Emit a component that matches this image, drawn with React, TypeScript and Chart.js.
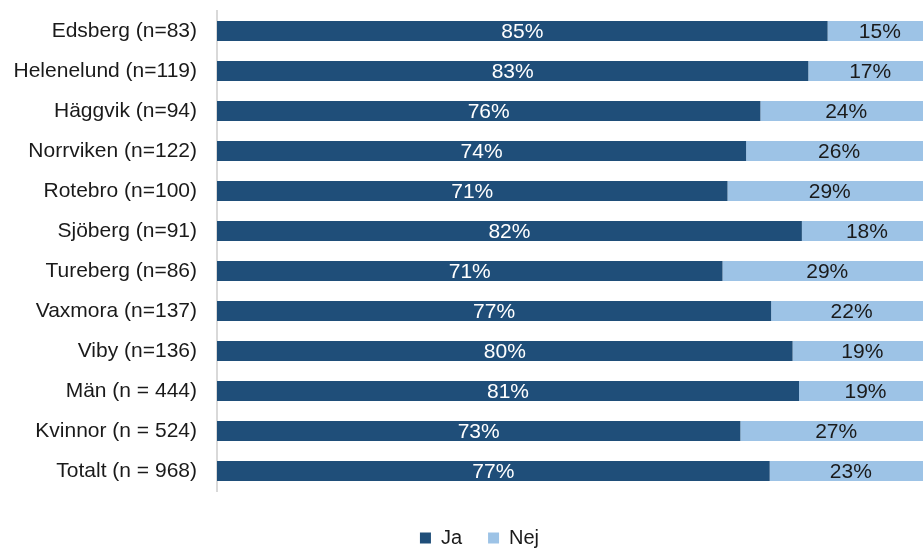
import React, { useEffect, useRef } from 'react';
import { Chart, registerables } from 'chart.js';

Chart.register(...registerables);

const categories = [
  'Edsberg (n=83)',
  'Helenelund (n=119)',
  'Häggvik (n=94)',
  'Norrviken (n=122)',
  'Rotebro (n=100)',
  'Sjöberg (n=91)',
  'Tureberg (n=86)',
  'Vaxmora (n=137)',
  'Viby (n=136)',
  'Män (n = 444)',
  'Kvinnor (n = 524)',
  'Totalt (n = 968)',
];

const jaValues = [85.4, 82.7, 76.0, 74.0, 71.4, 81.8, 70.7, 77.5, 80.5, 81.4, 73.2, 77.3];
const nejValues = [14.6, 17.3, 24.0, 26.0, 28.6, 18.2, 29.3, 22.5, 19.5, 18.6, 26.8, 22.7];

const jaLabels = ['85%', '83%', '76%', '74%', '71%', '82%', '71%', '77%', '80%', '81%', '73%', '77%'];
const nejLabels = ['15%', '17%', '24%', '26%', '29%', '18%', '29%', '22%', '19%', '19%', '27%', '23%'];

const seriesNames = ['Ja', 'Nej'];

const FONT = '"Liberation Sans", Arial, Helvetica, sans-serif';
const DARK = '#1F4E79';
const LIGHT = '#9DC3E6';
const TEXT = '#1a1a1a';

const barLabelPlugin = {
  id: 'barLabels',
  afterDatasetsDraw(chart: any) {
    const ctx = chart.ctx;
    chart.data.datasets.forEach((_ds: any, di: number) => {
      const meta = chart.getDatasetMeta(di);
      const labels = di === 0 ? jaLabels : nejLabels;
      meta.data.forEach((el: any, i: number) => {
        const p = el.getProps(['x', 'y', 'base'], true);
        ctx.save();
        ctx.font = `21px ${FONT}`;
        ctx.fillStyle = di === 0 ? '#ffffff' : TEXT;
        ctx.textAlign = 'center';
        ctx.textBaseline = 'middle';
        ctx.fillText(labels[i], (p.x + p.base) / 2, p.y + 1);
        ctx.restore();
      });
    });
  },
};

const legendShiftPlugin = {
  id: 'legendShift',
  afterLayout(chart: any) {
    if (chart.legend) {
      chart.legend.left += 18;
      chart.legend.right += 18;
    }
  },
};

export default function App() {
  const canvasRef = useRef<HTMLCanvasElement | null>(null);

  useEffect(() => {
    if (!canvasRef.current) return;
    Chart.defaults.font.family = FONT;
    const chart = new Chart(canvasRef.current, {
      type: 'bar',
      data: {
        labels: categories,
        datasets: [
          {
            label: seriesNames[0],
            data: jaValues,
            backgroundColor: DARK,
            categoryPercentage: 0.5,
            barPercentage: 1,
          },
          {
            label: seriesNames[1],
            data: nejValues,
            backgroundColor: LIGHT,
            categoryPercentage: 0.5,
            barPercentage: 1,
          },
        ],
      },
      options: {
        indexAxis: 'y',
        animation: false,
        responsive: true,
        maintainAspectRatio: false,
        layout: { padding: { top: 11, right: 0, bottom: 0, left: 0 } },
        scales: {
          x: {
            stacked: true,
            display: false,
            min: 0,
            max: 98.74,
          },
          y: {
            stacked: true,
            grid: { display: false, drawTicks: false },
            border: { display: true, color: '#d9d9d9', width: 2 },
            ticks: {
              color: TEXT,
              font: { size: 21, family: FONT },
              padding: 20,
              autoSkip: false,
            },
            afterFit: (scale: any) => {
              scale.width = 217;
              scale.paddingTop = 0;
              scale.paddingBottom = 0;
            },
          },
        },
        plugins: {
          legend: {
            position: 'bottom',
            title: { display: true, text: '', font: { size: 1, lineHeight: 1 }, padding: 5 },
            labels: {
              boxWidth: 11,
              boxHeight: 11,
              padding: 26,
              color: TEXT,
              font: { size: 20, family: FONT },
            },
          },
          tooltip: { enabled: false },
        },
      },
      plugins: [barLabelPlugin, legendShiftPlugin],
    });
    return () => chart.destroy();
  }, []);

  return (
    <div style={{ position: 'fixed', left: 0, top: 0, width: 923, height: 548, overflow: 'hidden', background: '#fff' }}>
      <div style={{ position: 'relative', width: 923, height: 558 }}>
        <canvas ref={canvasRef} />
      </div>
    </div>
  );
}
